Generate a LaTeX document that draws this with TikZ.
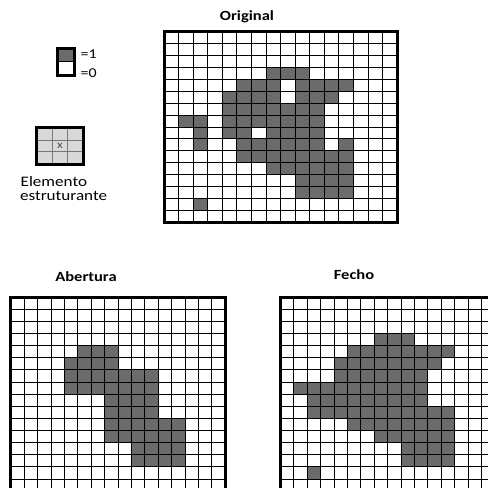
\documentclass[tikz,border=0pt]{standalone}
\usepackage{fontspec}
\setmainfont{Carlito}[FakeStretch=1.18]
\definecolor{cellfill}{RGB}{107,107,107}
\definecolor{selight}{RGB}{217,217,217}
\definecolor{seline}{RGB}{120,120,120}
\newcommand\morphgrid[5]{%
  \foreach \r/\a/\b in {#5} {
    \fill[cell] ({#1+\a*#3},{#2+\r*#4}) rectangle ({#1+(\b+1)*#3},{#2+(\r+1)*#4});
  }
  \foreach \i in {1,...,15} {
    \draw[gridline] ({#1+\i*#3},#2) -- ({#1+\i*#3},{#2+16*#4});
    \draw[gridline] (#1,{#2+\i*#4}) -- ({#1+16*#3},{#2+\i*#4});
  }
  \draw[border] (#1,#2) rectangle ({#1+16*#3},{#2+16*#4});
}
\begin{document}
\begin{tikzpicture}[x=1pt,y=-1pt,
  cell/.style={fill=cellfill},
  gridline/.style={line width=0.8pt,black},
  border/.style={line width=3pt,black},
  title/.style={font=\bfseries\fontsize{14}{16}\selectfont,anchor=base,inner sep=0pt},
  label/.style={font=\fontsize{14.5}{16}\selectfont,anchor=base west,inner sep=0pt},
  legend/.style={font=\fontsize{13.5}{15}\selectfont,anchor=base west,inner sep=0pt},
]
\useasboundingbox (0,0) rectangle (488,488);
\fill[white] (0,0) rectangle (488,488);
\clip (0,0) rectangle (488,488);

% titles
\node[title] (torig) at (247,20) {Original};
\node[title] (tab) at (86,281.7) {Abertura};
\node[title] (tfe) at (354,279) {Fecho};

% legend
\fill[cellfill] (57.3,48.3) rectangle (74.3,61.6);
\draw[gridline] (57.3,61.6) -- (74.3,61.6);
\draw[border] (57.3,48.3) rectangle (74.3,75);
\node[legend] (l1) at (80.5,58) {=1};
\node[legend] (l0) at (80.5,77.5) {=0};

% structuring element
\fill[selight] (36,127.3) rectangle (83.3,164);
\foreach \x in {52.7,67.3} \draw[seline,line width=0.8pt] (\x,127.3) -- (\x,164);
\foreach \y in {140.7,151.7} \draw[seline,line width=0.8pt] (36,\y) -- (83.3,\y);
\draw[border] (36,127.3) rectangle (83.3,164);
\node[font=\fontsize{11}{12}\selectfont,text=black!70,inner sep=0pt] (sex) at (60,146.2) {x};
\node[label] (el1) at (20.5,186.7) {Elemento};
\node[label] (el2) at (19.8,200.3) {estruturante};

% Original
\morphgrid{164}{31.7}{14.57}{11.91}{3/7/9,4/5/7,4/9/12,5/4/7,5/9/11,6/4/10,7/1/2,7/4/10,8/2/2,8/4/5,8/7/10,9/2/2,9/5/10,9/12/12,10/5/12,11/7/12,12/9/12,13/9/12,14/2/2}

% Abertura
\morphgrid{10.7}{297}{13.4}{12.13}{4/5/7,5/4/7,6/4/10,7/4/10,8/7/10,9/7/10,10/7/12,11/7/12,12/9/12,13/9/12}

% Fecho
\morphgrid{280.3}{297}{13.4}{12.13}{3/7/9,4/5/12,5/4/11,6/4/10,7/1/10,8/2/10,9/2/12,10/5/12,11/7/12,12/9/12,13/9/12,14/2/2}
\end{tikzpicture}
\end{document}
